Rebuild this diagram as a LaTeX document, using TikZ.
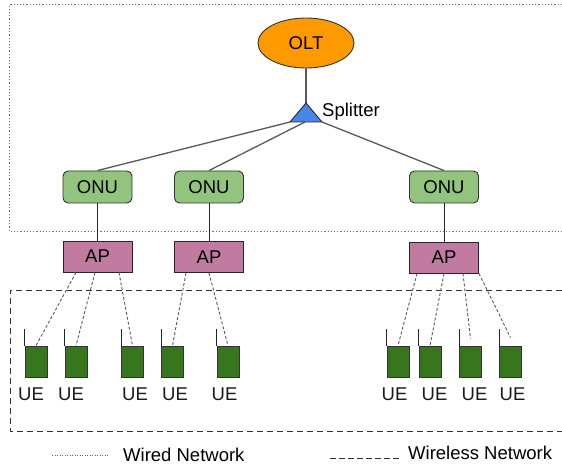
\documentclass[tikz,border=0pt]{standalone}
\usepackage{fontspec}
\setmainfont{Liberation Sans}
\usetikzlibrary{shapes.geometric}
\definecolor{oltc}{HTML}{FF9900}
\definecolor{splc}{HTML}{4A86E8}
\definecolor{onuc}{HTML}{93C47D}
\definecolor{apc}{HTML}{C27BA0}
\definecolor{uec}{HTML}{38761D}
\begin{document}
\begin{tikzpicture}[x=1pt,y=-1pt,
  font=\fontsize{18.5}{21}\selectfont,
  onubox/.style={draw=black!80, fill=onuc, rounded corners=5pt, minimum width=69pt, minimum height=32pt, inner sep=0pt, line width=0.9pt},
  apbox/.style={draw=black!85, fill=apc, minimum width=69pt, minimum height=31pt, inner sep=0pt, line width=1pt},
  uebox/.style={draw=black!80, fill=uec, minimum width=22pt, minimum height=31pt, inner sep=0pt, line width=0.8pt},
  uelabel/.style={inner sep=0pt, anchor=base, text=black!90},
  wired/.style={draw=black!65, line width=1.3pt},
  apline/.style={draw=black!85, line width=0.9pt},
  wireless/.style={draw=black!65, line width=0.9pt, dash pattern=on 3pt off 2pt},
  wiredframe/.style={draw=black!55, line width=1pt, dash pattern=on 1.2pt off 2pt},
  wirelessframe/.style={draw=black!80, line width=1pt, dash pattern=on 6pt off 4pt}
]
\useasboundingbox (0,0) rectangle (562,465);

% frames
\draw[wiredframe] (562,5) -- (9,5) -- (9,231) -- (562,231);
\draw[wirelessframe] (562,290) -- (10,290) -- (10,431) -- (562,431);

% splitter geometry
\coordinate (spltop) at (306,103);
\coordinate (splL) at (290,122);
\coordinate (splM) at (305,122);
\coordinate (splR) at (322,122);

% nodes
\node[ellipse, draw=black!80, fill=oltc, minimum width=96pt, minimum height=50pt, inner sep=0pt, line width=0.9pt] (olt) at (306,43) {OLT};

\node[onubox] (onu1) at (97.5,187) {ONU};
\node[onubox] (onu2) at (209,187) {ONU};
\node[onubox] (onu3) at (444,187) {ONU};

% wired links
\draw[wired] (olt.south) -- (spltop);
\draw[wired] (splL) -- (onu1.north);
\draw[wired] (splM) -- (onu2.north);
\draw[wired] (splR) -- (onu3.north);
\draw[draw=black!85, fill=splc, line width=0.9pt, line join=round] (spltop) -- (splR) -- (splL) -- cycle;
\node[inner sep=0pt, anchor=base west] (spltxt) at (322,117) {Splitter};

\node[apbox] (ap1) at (97.5,256.5) {AP};
\node[apbox] (ap2) at (209,257) {AP};
\node[apbox] (ap3) at (444,257.5) {AP};

\draw[apline] (onu1) -- (ap1);
\draw[apline] (onu2) -- (ap2);
\draw[apline] (onu3) -- (ap3);

% UEs
\foreach \n/\x in {1/36,2/76,3/132.5,4/172.5,5/228,6/398,7/430,8/470.5,9/510.5}{
  \node[uebox] (ue\n) at (\x,361.5) {};
  \draw[draw=black!85, line width=0.8pt] (ue\n.north west) -- ++(0,-17);
}
\foreach \n/\x in {1/31,2/71,3/135,4/175,5/224.5,6/394.5,7/434.5,8/474.5,9/512.5}{
  \node[uelabel] (uel\n) at (\x,400) {UE};
}

% wireless links
\draw[wireless] ([xshift=-21.5pt]ap1.south) -- (ue1.north);
\draw[wireless] ([xshift=-2.5pt]ap1.south) -- (ue2.north);
\draw[wireless] ([xshift=21.5pt]ap1.south) -- (ue3.north);
\draw[wireless] ([xshift=-23pt]ap2.south) -- (ue4.north);
\draw[wireless] (ap2.south) -- (ue5.north);
\draw[wireless] ([xshift=-27pt]ap3.south) -- (ue6.north);
\draw[wireless] (ap3.south) -- (ue7.north);
\draw[wireless] ([xshift=19pt]ap3.south) -- ([yshift=7pt]ue8.north);
\draw[wireless] ([xshift=35pt]ap3.south) -- ([yshift=8pt]ue9.north);

% legend
\coordinate (lg1a) at (52,455);
\coordinate (lg1b) at (108,455);
\coordinate (lg2a) at (330,458);
\coordinate (lg2b) at (400,458);
\draw[draw=black!60, line width=0.8pt, dash pattern=on 1pt off 1.5pt] (lg1a) -- (lg1b);
\draw[draw=black!80, line width=0.9pt, dash pattern=on 6pt off 3pt] (lg2a) -- (lg2b);
\node[inner sep=0pt, anchor=base west] (lgt1) at (123,461) {Wired Network};
\node[inner sep=0pt, anchor=base west] (lgt2) at (408,459) {Wireless Network};
\end{tikzpicture}
\end{document}
